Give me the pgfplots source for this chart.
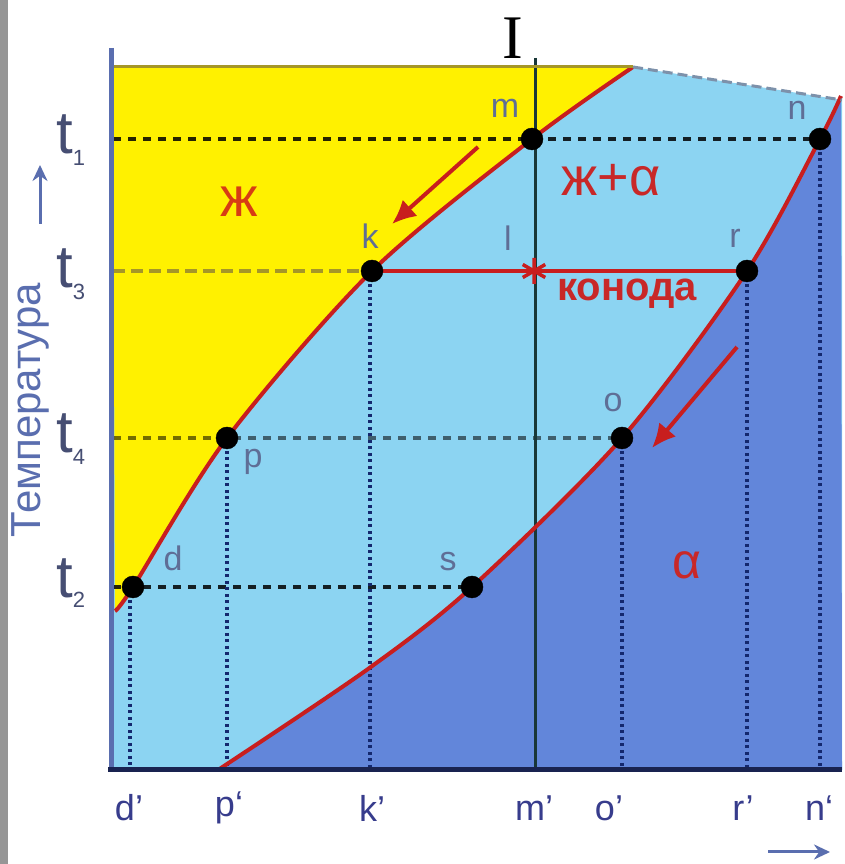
\documentclass[border=0pt]{standalone}
\usepackage{fontspec}
\setmainfont{Liberation Sans}
\newfontfamily\seriffont{Liberation Serif}
\usepackage{pgfplots}
\pgfplotsset{compat=1.18}
\usepgfplotslibrary{fillbetween}
\usetikzlibrary{arrows.meta}

\definecolor{liqcol}{RGB}{255,241,0}
\definecolor{twoph}{RGB}{140,212,242}
\definecolor{solcol}{RGB}{98,134,218}
\definecolor{curve}{RGB}{200,30,30}
\definecolor{axblue}{RGB}{90,110,175}
\definecolor{navy}{RGB}{25,35,80}
\definecolor{dotline}{RGB}{20,40,110}
\definecolor{ptlab}{RGB}{95,110,150}
\definecolor{ticklab}{RGB}{55,60,140}
\definecolor{tlab}{RGB}{70,78,115}
\definecolor{lab}{RGB}{200,40,40}
\definecolor{zhcol}{RGB}{215,60,20}
\definecolor{olive}{RGB}{165,150,40}
\definecolor{lineI}{RGB}{25,55,55}
\definecolor{stripgray}{RGB}{150,150,150}
\definecolor{topdash}{RGB}{125,145,170}

\newcommand{\fs}[1]{\fontsize{#1}{#1}\selectfont}

% liquidus and solidus (pixel-like units, y downwards)
\pgfplotstableread{
x y
115 611
133 587
227 438
372 271
532 139
633 67
}\liquidus
\pgfplotstableread{
x y
218 770
368 669
472 587
622 438
747 271
820 139
841 96
}\solidus

\begin{document}
\begin{tikzpicture}
\begin{axis}[
  scale only axis, width=842pt, height=864pt,
  xmin=0, xmax=842, ymin=0, ymax=864, y dir=reverse,
  hide axis, clip=false,
]
% background and frame strip
\addplot[fill=white, draw=none] coordinates {(0,0)(842,0)(842,864)(0,864)} --cycle;
\addplot[fill=stripgray, draw=none] coordinates {(0,0)(8,0)(8,864)(0,864)} --cycle;

% two-phase field (background of the diagram)
\addplot[fill=twoph, draw=none] coordinates {(113,67)(633,67)(842,100)(842,770)(113,770)} --cycle;

% liquid field
\addplot[draw=none, name path=liq, smooth] table {\liquidus};
\addplot[draw=none, name path=top] coordinates {(113,67)(633,67)};
\addplot[fill=liqcol, draw=none] fill between[of=liq and top, on layer=main];

% solid field
\addplot[draw=none, name path=sol, smooth] table {\solidus};
\addplot[draw=none, name path=bot] coordinates {(218,770)(842,770)};
\addplot[fill=solcol, draw=none] fill between[of=sol and bot, on layer=main];

% isotherms
\addplot[black, draw opacity=0.85, line width=4pt, dash pattern=on 8pt off 7pt] coordinates {(113,139)(820,139)};
\addplot[olive, line width=4pt, dash pattern=on 12pt off 6pt] coordinates {(113,271)(372,271)};
\addplot[black, draw opacity=0.55, line width=4pt, dash pattern=on 8pt off 7pt] coordinates {(113,438)(622,438)};
\addplot[black, draw opacity=0.85, line width=4pt, dash pattern=on 8pt off 7pt] coordinates {(113,587)(472,587)};

% projections onto the composition axis
\addplot[dotline, line width=4pt, dash pattern=on 3pt off 3.5pt] coordinates {(130,587)(130,770)};
\addplot[dotline, line width=4pt, dash pattern=on 3pt off 3.5pt] coordinates {(227,438)(227,770)};
\addplot[dotline, line width=4pt, dash pattern=on 3pt off 3.5pt] coordinates {(370,271)(370,770)};
\addplot[dotline, line width=4pt, dash pattern=on 3pt off 3.5pt] coordinates {(622,438)(622,770)};
\addplot[dotline, line width=4pt, dash pattern=on 3pt off 3.5pt] coordinates {(747,271)(747,770)};
\addplot[dotline, line width=4pt, dash pattern=on 3pt off 3.5pt] coordinates {(820,139)(820,770)};

% alloy I
\addplot[lineI, line width=3pt] coordinates {(535,58)(535,770)};

% liquidus and solidus lines
\addplot[curve, line width=4pt, smooth] table {\liquidus};
\addplot[curve, line width=4pt, smooth] table {\solidus};

% tie line (конода)
\addplot[curve, line width=4pt] coordinates {(372,271)(747,271)};
\addplot[only marks, mark=asterisk, mark size=13pt, curve, line width=3.5pt] coordinates {(534,271)};

% borders and axes
\addplot[olive, line width=3pt] coordinates {(113,67)(633,67)};
\addplot[topdash, line width=3pt, dash pattern=on 10pt off 5pt] coordinates {(633,67)(842,100)};
\addplot[axblue, line width=5pt] coordinates {(111,48)(111,772)};
\addplot[navy, line width=5pt] coordinates {(108,770)(842,770)};

% points on the curves
\addplot[only marks, mark=*, mark size=11pt, black] coordinates {
  (532,139) (820,139) (372,271) (747,271) (227,438) (622,438) (133,587) (472,587)};

% cooling direction arrows
\addplot[curve, line width=4pt, -{Latex[length=24pt,width=22pt]}] coordinates {(478,147)(392,224)};
\addplot[curve, line width=4pt, -{Latex[length=24pt,width=22pt]}] coordinates {(737,347)(652,448)};

% axis arrows
\addplot[axblue, line width=3pt, -{Stealth[length=16pt,width=15pt]}] coordinates {(40,224)(40,165)};
\addplot[axblue, line width=3pt, -{Stealth[length=16pt,width=15pt]}] coordinates {(768,852)(830,852)};

% labels
\node[font=\seriffont\fs{62}, text=black] at (axis cs:513,38) {I};
\node[rotate=90, text=axblue, font=\fs{42}] at (axis cs:30,410) {Температура};

\node[text=tlab, font=\fs{60}] at (axis cs:65,134) {t};
\node[text=tlab, font=\fs{22}] at (axis cs:79,158) {1};
\node[text=tlab, font=\fs{60}] at (axis cs:65,268) {t};
\node[text=tlab, font=\fs{22}] at (axis cs:79,292) {3};
\node[text=tlab, font=\fs{60}] at (axis cs:65,433) {t};
\node[text=tlab, font=\fs{22}] at (axis cs:79,457) {4};
\node[text=tlab, font=\fs{60}] at (axis cs:65,578) {t};
\node[text=tlab, font=\fs{22}] at (axis cs:79,600) {2};

\node[text=ptlab, font=\fs{34}] at (axis cs:505,108) {m};
\node[text=ptlab, font=\fs{34}] at (axis cs:797,110) {n};
\node[text=ptlab, font=\fs{34}] at (axis cs:370,236) {k};
\node[text=ptlab, font=\fs{34}] at (axis cs:508,238) {l};
\node[text=ptlab, font=\fs{34}] at (axis cs:735,238) {r};
\node[text=ptlab, font=\fs{34}] at (axis cs:613,403) {o};
\node[text=ptlab, font=\fs{34}] at (axis cs:253,462) {p};
\node[text=ptlab, font=\fs{34}] at (axis cs:173,558) {d};
\node[text=ptlab, font=\fs{34}] at (axis cs:448,562) {s};

\node[text=zhcol, font=\fs{56}] at (axis cs:239,202) {ж};
\node[text=lab, font=\fs{54}] at (axis cs:611,180) {ж+α};
\node[text=lab, font=\bfseries\fs{40}] at (axis cs:627,294) {конода};
\node[text=lab, font=\fs{50}] at (axis cs:687,565) {α};

\node[text=ticklab, font=\fs{36}] at (axis cs:129,808) {d'};
\node[text=ticklab, font=\fs{36}] at (axis cs:229,808) {p`};
\node[text=ticklab, font=\fs{36}] at (axis cs:372,808) {k'};
\node[text=ticklab, font=\fs{36}] at (axis cs:534,808) {m'};
\node[text=ticklab, font=\fs{36}] at (axis cs:609,808) {o'};
\node[text=ticklab, font=\fs{36}] at (axis cs:743,808) {r'};
\node[text=ticklab, font=\fs{36}] at (axis cs:819,808) {n`};
\end{axis}
\end{tikzpicture}
\end{document}
